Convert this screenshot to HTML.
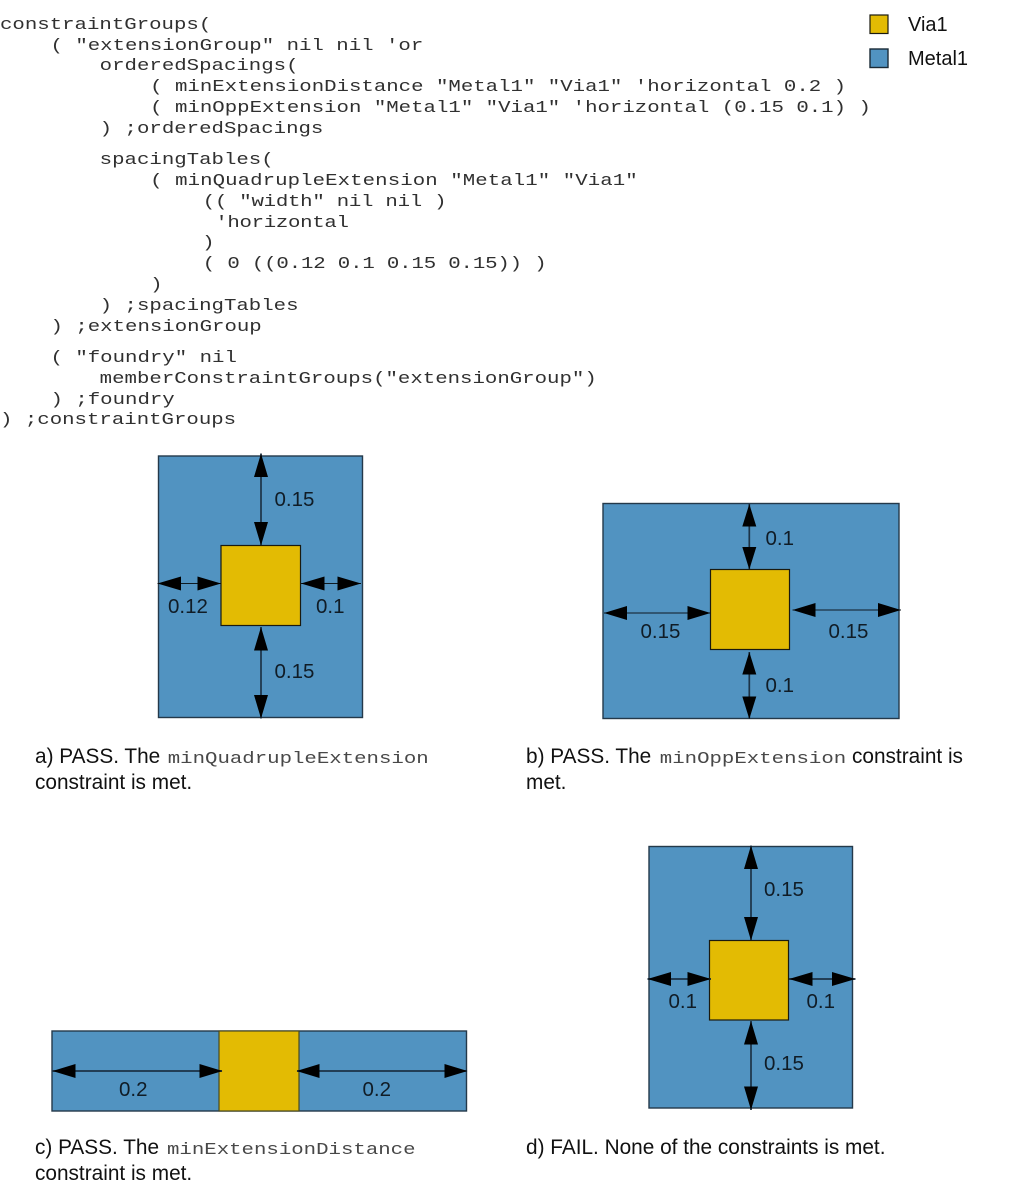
<!DOCTYPE html>
<html>
<head>
<meta charset="utf-8">
<style>
html,body{margin:0;padding:0;background:#fff;width:1013px;height:1198px;overflow:hidden}
svg{display:block}
.m{font-family:"Liberation Mono",monospace;font-size:16.5px;fill:#303030;white-space:pre}
.c{fill:#484848}
.s{font-family:"Liberation Sans",sans-serif;font-size:20.8px;fill:#111}
.n{font-family:"Liberation Sans",sans-serif;font-size:20.5px;fill:#101c26}
.g{font-family:"Liberation Sans",sans-serif;font-size:20px;fill:#111}
.b{fill:#5193c1;stroke:#24394a;stroke-width:1.4}
.y{fill:#e3bb03;stroke:#1a1a10;stroke-width:1.2}
.l{stroke:#1c3347;stroke-width:1.7;fill:none}
.t{stroke:#0e1a22;stroke-width:1.1;fill:none}
.h{fill:#000}
</style>
</head>
<body>
<svg width="1013" height="1198" viewBox="0 0 1013 1198" xmlns="http://www.w3.org/2000/svg">
<g transform="scale(1.2556 1)">
<text class="m" xml:space="preserve" x="0" y="29">constraintGroups(</text>
<text class="m" xml:space="preserve" x="40.200" y="50">( "extensionGroup" nil nil 'or</text>
<text class="m" xml:space="preserve" x="79.400" y="70">orderedSpacings(</text>
<text class="m" xml:space="preserve" x="119.600" y="91">( minExtensionDistance "Metal1" "Via1" 'horizontal 0.2 )</text>
<text class="m" xml:space="preserve" x="119.600" y="112">( minOppExtension "Metal1" "Via1" 'horizontal (0.15 0.1) )</text>
<text class="m" xml:space="preserve" x="79.400" y="133">) ;orderedSpacings</text>
<text class="m" xml:space="preserve" x="79.400" y="164">spacingTables(</text>
<text class="m" xml:space="preserve" x="119.600" y="185" letter-spacing="0.06">( minQuadrupleExtension "Metal1" "Via1"</text>
<text class="m" xml:space="preserve" x="161.500" y="206" letter-spacing="-0.2">(( "width" nil nil )</text>
<text class="m" xml:space="preserve" x="171.500" y="227" letter-spacing="-0.25">'horizontal</text>
<text class="m" xml:space="preserve" x="161" y="247">)</text>
<text class="m" xml:space="preserve" x="161.500" y="268" letter-spacing="-0.12">( 0 ((0.12 0.1 0.15 0.15)) )</text>
<text class="m" xml:space="preserve" x="119.600" y="289">)</text>
<text class="m" xml:space="preserve" x="79.400" y="310">) ;spacingTables</text>
<text class="m" xml:space="preserve" x="40.200" y="331">) ;extensionGroup</text>
<text class="m" xml:space="preserve" x="40.200" y="362">( "foundry" nil</text>
<text class="m" xml:space="preserve" x="79.400" y="383">memberConstraintGroups("extensionGroup")</text>
<text class="m" xml:space="preserve" x="40.200" y="404">) ;foundry</text>
<text class="m" xml:space="preserve" x="0" y="424">) ;constraintGroups</text>
<text class="m c" x="133.600" y="763">minQuadrupleExtension</text>
<text class="m c" x="525.500" y="763">minOppExtension</text>
<text class="m c" x="133" y="1154">minExtensionDistance</text>
</g>

<!-- legend -->
<rect x="870" y="15" width="18" height="18.500" class="y" stroke-width="1"/>
<rect x="870" y="49" width="18" height="18.500" class="b" style="stroke:#1a2a36"/>
<text class="g" x="908" y="31">Via1</text>
<text class="g" x="908" y="65">Metal1</text>

<!-- a -->
<rect x="158.500" y="456" width="204" height="261.500" class="b"/>
<rect x="221" y="545.500" width="79.500" height="80" class="y"/>
<path class="l" d="M261 453.500V545M261 627V718.500"/>
<path class="t" d="M157.500 583.500H221M301 583.500H361"/>
<path class="h" d="M261 453.500l-7 23.500h14zM261 545.500l-7-23.500h14zM261 627l-7 23.500h14zM261 718.500l-7-23.500h14z"/>
<path class="h" d="M157.500 583.500l23.500-7v14zM221 583.500l-23.500-7v14zM301 583.500l23.500-7v14zM361 583.500l-23.500-7v14z"/>
<text class="n" x="274.500" y="506">0.15</text>
<text class="n" x="168" y="613">0.12</text>
<text class="n" x="316" y="613">0.1</text>
<text class="n" x="274.500" y="678">0.15</text>

<!-- b -->
<rect x="603" y="503.500" width="296" height="215" class="b"/>
<rect x="710.500" y="569.500" width="79" height="80" class="y"/>
<path class="l" d="M749.300 504V569M749.300 652V719"/>
<path class="t" d="M604 613H710M792.500 610H901"/>
<path class="h" d="M749.300 504l-7 22.500h14zM749.300 569.500l-7-22.500h14zM749.300 652l-7 22.500h14zM749.300 719l-7-22.500h14z"/>
<path class="h" d="M604 613l23-7v14zM710.500 613l-23-7v14zM792.500 610l23-7v14zM901 610l-23-7v14z"/>
<text class="n" x="765.500" y="545">0.1</text>
<text class="n" x="640.500" y="638">0.15</text>
<text class="n" x="828.500" y="638">0.15</text>
<text class="n" x="765.500" y="692">0.1</text>

<!-- c -->
<rect x="52" y="1031" width="414.500" height="80" class="b"/>
<rect x="219" y="1031" width="80" height="80" class="y" style="stroke:#4a4a20"/>
<path class="l" d="M52.500 1071H222M297 1071H467"/>
<path class="h" d="M52.500 1071l23-7v14zM222.500 1071l-23-7v14zM296.500 1071l23-7v14zM467.500 1071l-23-7v14z"/>
<text class="n" x="119" y="1096">0.2</text>
<text class="n" x="362.500" y="1096">0.2</text>

<!-- d -->
<rect x="649" y="846.500" width="203.500" height="261.500" class="b"/>
<rect x="709.500" y="940.500" width="79" height="79.500" class="y"/>
<path class="l" d="M751 845.500V940M751 1021V1110M647.500 979H711M789 979H855.500"/>
<path class="h" d="M751 845.500l-7 23.500h14zM751 940.500l-7-23.500h14zM751 1021l-7 23.500h14zM751 1110l-7-23.500h14z"/>
<path class="h" d="M647.500 979l23.500-7v14zM711 979l-23.500-7v14zM789 979l23.500-7v14zM855.500 979l-23.500-7v14z"/>
<text class="n" x="764" y="896">0.15</text>
<text class="n" x="668.500" y="1008">0.1</text>
<text class="n" x="806.500" y="1008">0.1</text>
<text class="n" x="764" y="1070">0.15</text>

<!-- captions -->
<text class="s" x="35" y="763">a) PASS. The</text>
<text class="s" x="35" y="789">constraint is met.</text>
<text class="s" x="526" y="763">b) PASS. The</text>
<text class="s" x="852" y="763">constraint is</text>
<text class="s" x="526" y="789">met.</text>
<text class="s" x="35" y="1154">c) PASS. The</text>
<text class="s" x="35" y="1180">constraint is met.</text>
<text class="s" x="526" y="1154">d) FAIL. None of the constraints is met.</text>
</svg>
</body>
</html>
